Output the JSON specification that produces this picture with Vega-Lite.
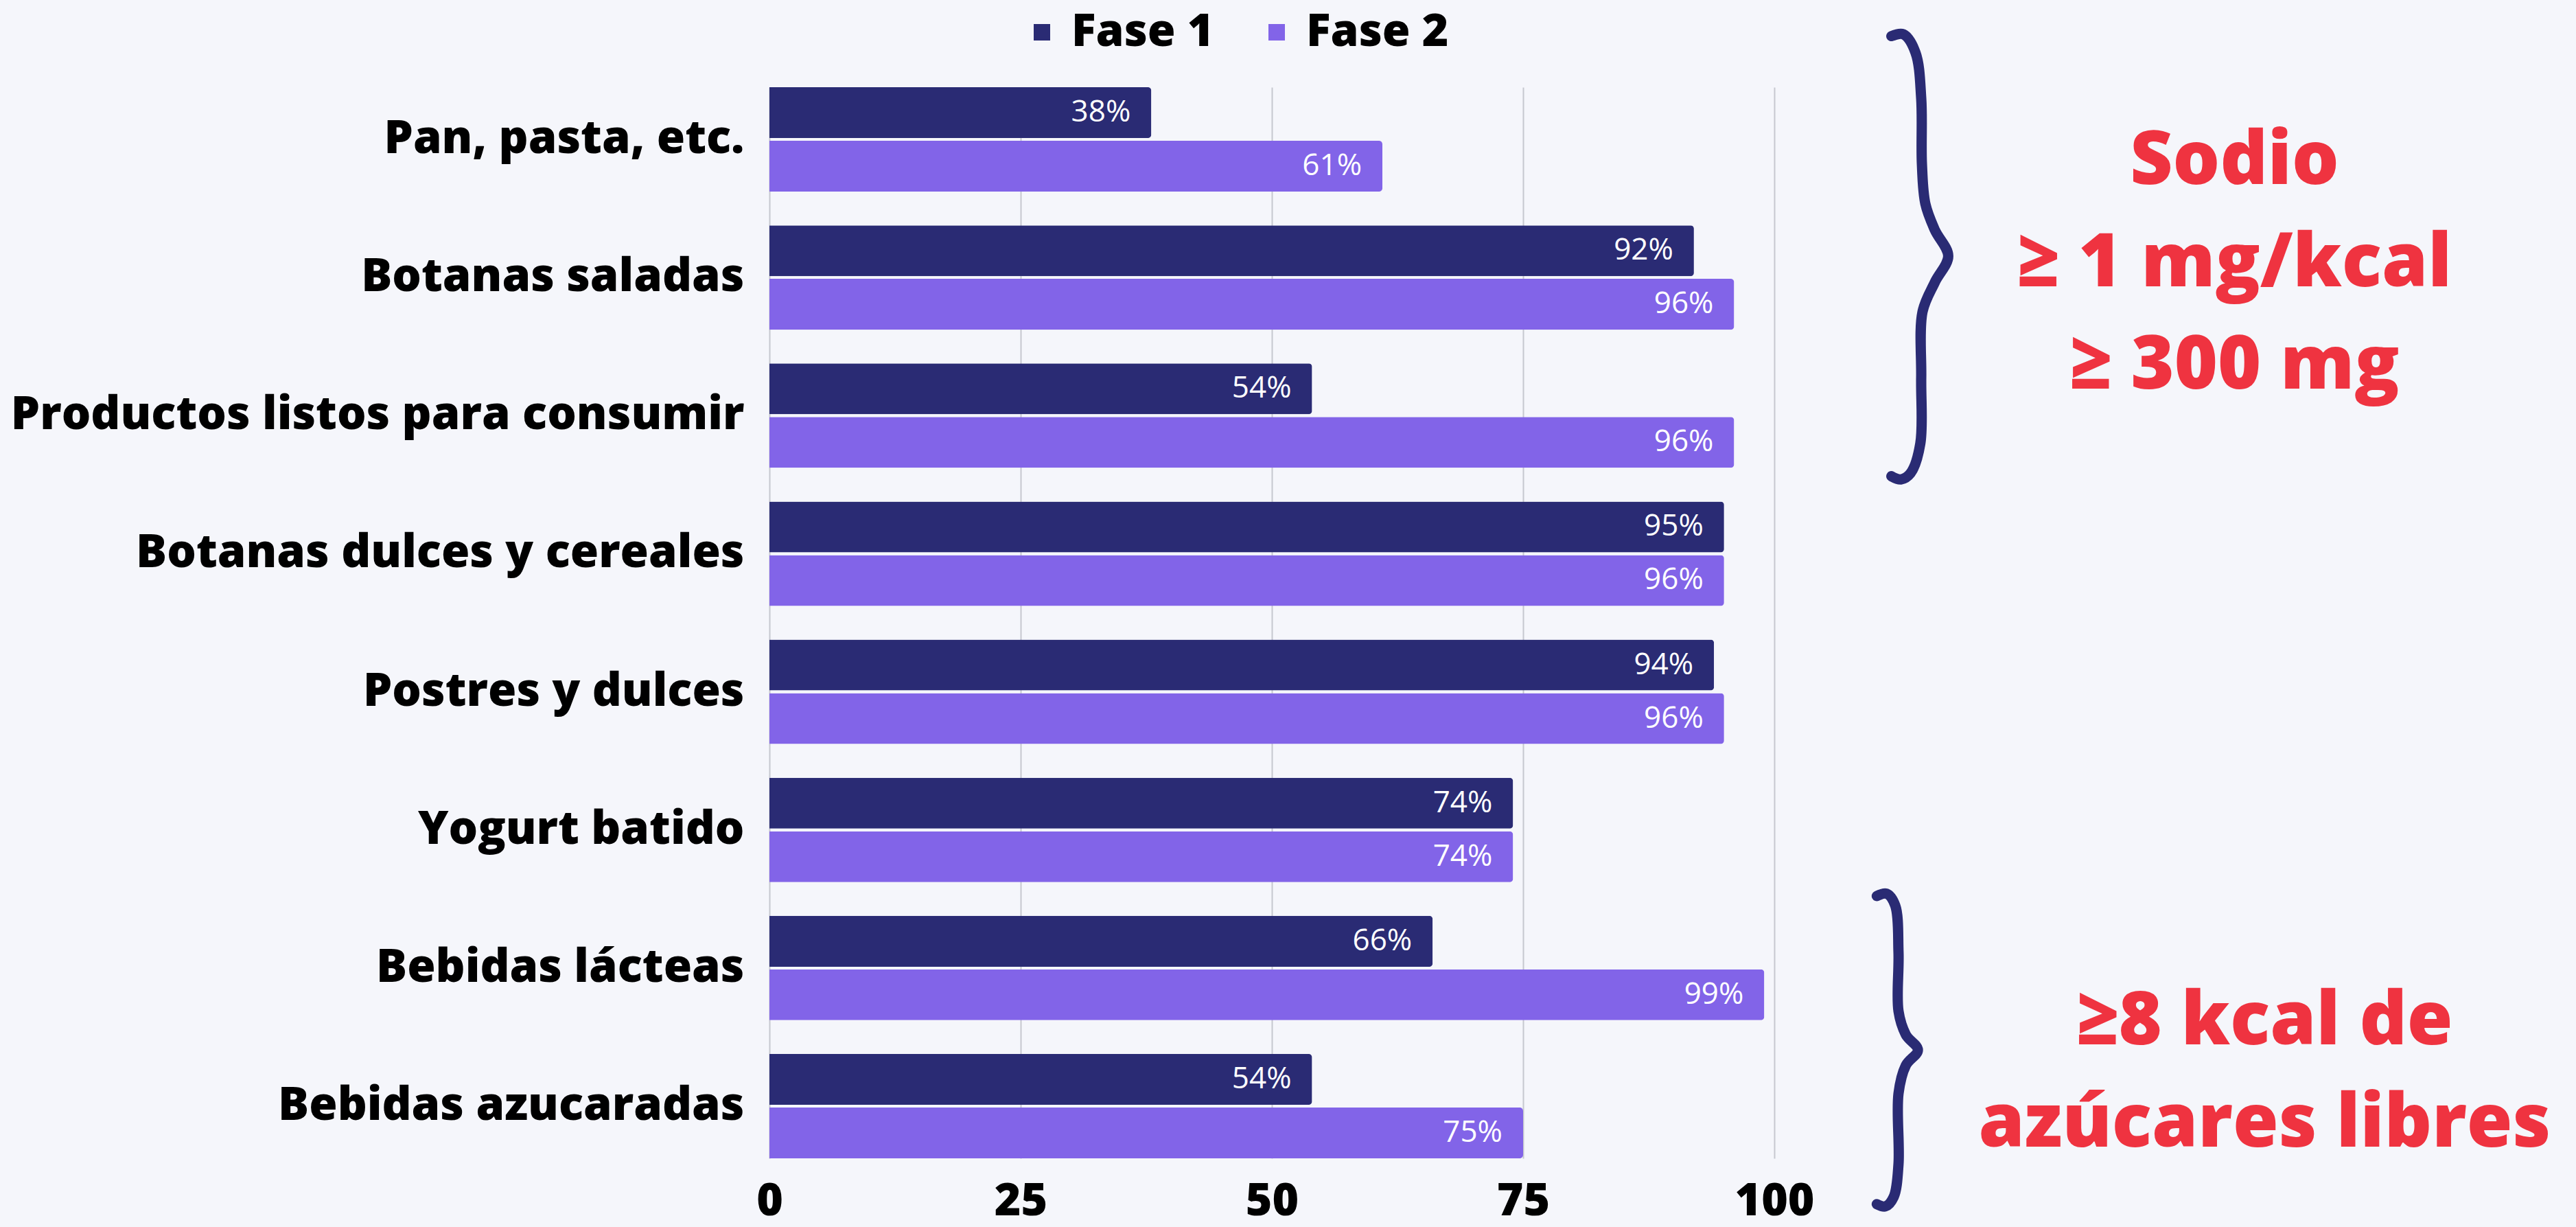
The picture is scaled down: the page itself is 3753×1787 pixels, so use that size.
{
  "$schema": "https://vega.github.io/schema/vega-lite/v6.json",
  "width": 1464,
  "height": 1560,
  "autosize": {"type": "none"},
  "padding": {"left": 1121, "top": 127, "right": 1168, "bottom": 100},
  "background": "#f5f6fb",
  "config": {
    "view": {"stroke": null},
    "font": "Open Sans",
    "legend": {
      "orient": "none",
      "legendX": 364,
      "legendY": -113,
      "direction": "horizontal",
      "symbolType": "square",
      "symbolSize": 576,
      "symbolStrokeWidth": 0,
      "labelFont": "Open Sans",
      "labelFontSize": 66,
      "labelFontWeight": 800,
      "labelColor": "#000000",
      "labelLimit": 1000,
      "labelOffset": 10,
      "columnPadding": 58,
      "padding": 0,
      "title": null
    }
  },
  "datasets": {
    "bars": [
      {"categoria": "Pan, pasta, etc.", "fase": "Fase 1", "valor": 38, "etiqueta": "38%"},
      {"categoria": "Pan, pasta, etc.", "fase": "Fase 2", "valor": 61, "etiqueta": "61%"},
      {"categoria": "Botanas saladas", "fase": "Fase 1", "valor": 92, "etiqueta": "92%"},
      {"categoria": "Botanas saladas", "fase": "Fase 2", "valor": 96, "etiqueta": "96%"},
      {"categoria": "Productos listos para consumir", "fase": "Fase 1", "valor": 54, "etiqueta": "54%"},
      {"categoria": "Productos listos para consumir", "fase": "Fase 2", "valor": 96, "etiqueta": "96%"},
      {"categoria": "Botanas dulces y cereales", "fase": "Fase 1", "valor": 95, "etiqueta": "95%"},
      {"categoria": "Botanas dulces y cereales", "fase": "Fase 2", "valor": 95, "etiqueta": "96%"},
      {"categoria": "Postres y dulces", "fase": "Fase 1", "valor": 94, "etiqueta": "94%"},
      {"categoria": "Postres y dulces", "fase": "Fase 2", "valor": 95, "etiqueta": "96%"},
      {"categoria": "Yogurt batido", "fase": "Fase 1", "valor": 74, "etiqueta": "74%"},
      {"categoria": "Yogurt batido", "fase": "Fase 2", "valor": 74, "etiqueta": "74%"},
      {"categoria": "Bebidas lácteas", "fase": "Fase 1", "valor": 66, "etiqueta": "66%"},
      {"categoria": "Bebidas lácteas", "fase": "Fase 2", "valor": 99, "etiqueta": "99%"},
      {"categoria": "Bebidas azucaradas", "fase": "Fase 1", "valor": 54, "etiqueta": "54%"},
      {"categoria": "Bebidas azucaradas", "fase": "Fase 2", "valor": 75, "etiqueta": "75%"}
    ],
    "braces": [
      {"llave": "sodio", "i": 1, "bx": 111.65, "by": -0.370},
      {"llave": "sodio", "i": 2, "bx": 112.84, "by": -0.383},
      {"llave": "sodio", "i": 3, "bx": 114.05, "by": -0.251},
      {"llave": "sodio", "i": 4, "bx": 114.62, "by": 0.082},
      {"llave": "sodio", "i": 5, "bx": 114.69, "by": 0.557},
      {"llave": "sodio", "i": 6, "bx": 115.03, "by": 0.843},
      {"llave": "sodio", "i": 7, "bx": 115.98, "by": 1.034},
      {"llave": "sodio", "i": 8, "bx": 117.31, "by": 1.223},
      {"llave": "sodio", "i": 9, "bx": 115.98, "by": 1.412},
      {"llave": "sodio", "i": 10, "bx": 114.75, "by": 1.626},
      {"llave": "sodio", "i": 11, "bx": 114.62, "by": 2.103},
      {"llave": "sodio", "i": 12, "bx": 114.53, "by": 2.581},
      {"llave": "sodio", "i": 13, "bx": 113.56, "by": 2.795},
      {"llave": "sodio", "i": 14, "bx": 112.60, "by": 2.840},
      {"llave": "sodio", "i": 15, "bx": 111.65, "by": 2.817},
      {"llave": "azucar", "i": 1, "bx": 110.20, "by": 5.857},
      {"llave": "azucar", "i": 2, "bx": 111.17, "by": 5.840},
      {"llave": "azucar", "i": 3, "bx": 112.03, "by": 5.925},
      {"llave": "azucar", "i": 4, "bx": 112.36, "by": 6.266},
      {"llave": "azucar", "i": 5, "bx": 112.36, "by": 6.691},
      {"llave": "azucar", "i": 6, "bx": 113.09, "by": 6.861},
      {"llave": "azucar", "i": 7, "bx": 114.29, "by": 6.972},
      {"llave": "azucar", "i": 8, "bx": 113.09, "by": 7.083},
      {"llave": "azucar", "i": 9, "bx": 112.36, "by": 7.287},
      {"llave": "azucar", "i": 10, "bx": 112.36, "by": 7.798},
      {"llave": "azucar", "i": 11, "bx": 111.88, "by": 8.036},
      {"llave": "azucar", "i": 12, "bx": 111.06, "by": 8.104},
      {"llave": "azucar", "i": 13, "bx": 110.20, "by": 8.088}
    ],
    "notes": [
      {"texto": "Sodio", "nx": 145.8, "ny": 0.701},
      {"texto": "≥ 1 mg/kcal", "nx": 145.8, "ny": 1.442},
      {"texto": "≥ 300 mg", "nx": 145.8, "ny": 2.183},
      {"texto": "≥8 kcal de", "nx": 148.8, "ny": 6.929},
      {"texto": "azúcares libres", "nx": 148.8, "ny": 7.670}
    ]
  },
  "layer": [
    {
      "data": {"name": "bars"},
      "encoding": {
        "y": {
          "field": "categoria",
          "type": "nominal",
          "sort": ["Pan, pasta, etc.", "Botanas saladas", "Productos listos para consumir", "Botanas dulces y cereales", "Postres y dulces", "Yogurt batido", "Bebidas lácteas", "Bebidas azucaradas"],
          "scale": {"paddingInner": 0.244, "paddingOuter": 0},
          "title": null,
          "axis": {
            "domain": false,
            "ticks": false,
            "grid": false,
            "labelFont": "Open Sans",
            "labelFontSize": 67,
            "labelFontWeight": 800,
            "labelColor": "#000000",
            "labelPadding": 37,
            "labelLimit": 3000
          }
        },
        "x": {
          "field": "valor",
          "type": "quantitative",
          "scale": {"domain": [0, 100], "nice": false},
          "title": null,
          "axis": {
            "values": [0, 25, 50, 75, 100],
            "domain": false,
            "ticks": false,
            "grid": true,
            "gridColor": "#c6c7cf",
            "gridWidth": 2,
            "labelFlush": false,
            "labelFont": "Open Sans",
            "labelFontSize": 66,
            "labelFontWeight": 800,
            "labelColor": "#000000",
            "labelPadding": 30
          }
        },
        "yOffset": {"field": "fase", "type": "nominal", "scale": {"paddingInner": 0.05}}
      },
      "layer": [
        {
          "mark": {"type": "bar", "cornerRadiusEnd": 5},
          "encoding": {
            "color": {
              "field": "fase",
              "type": "nominal",
              "scale": {"domain": ["Fase 1", "Fase 2"], "range": ["#2a2b74", "#8264e8"]},
              "legend": {"title": null}
            }
          }
        },
        {
          "mark": {"type": "text", "align": "right", "dx": -30, "color": "#ffffff", "font": "Open Sans", "fontSize": 44},
          "encoding": {"text": {"field": "etiqueta", "type": "nominal"}}
        }
      ]
    },
    {
      "data": {"name": "braces"},
      "mark": {"type": "line", "interpolate": "catmull-rom", "strokeWidth": 15, "color": "#2a2b74", "strokeCap": "round", "strokeJoin": "round"},
      "encoding": {
        "x": {"field": "bx", "type": "quantitative", "scale": {"domain": [0, 100], "nice": false}},
        "y": {"field": "by", "type": "quantitative", "scale": {"domain": [0, 7.7564], "reverse": true, "nice": false, "zero": false}, "axis": null},
        "detail": {"field": "llave", "type": "nominal"},
        "order": {"field": "i", "type": "quantitative"}
      }
    },
    {
      "data": {"name": "notes"},
      "mark": {"type": "text", "align": "center", "baseline": "alphabetic", "font": "Open Sans", "fontSize": 108, "fontWeight": 800, "color": "#ef3340"},
      "encoding": {
        "x": {"field": "nx", "type": "quantitative", "scale": {"domain": [0, 100], "nice": false}},
        "y": {"field": "ny", "type": "quantitative", "scale": {"domain": [0, 7.7564], "reverse": true, "nice": false, "zero": false}, "axis": null},
        "text": {"field": "texto", "type": "nominal"}
      }
    }
  ],
  "resolve": {"scale": {"y": "independent"}}
}
